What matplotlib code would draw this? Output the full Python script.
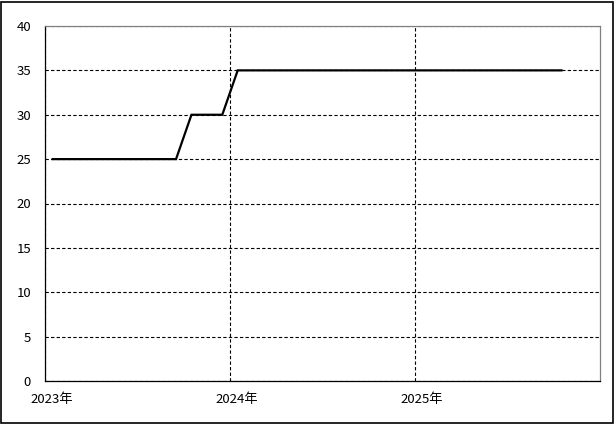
import numpy as np
import matplotlib
matplotlib.use("Agg")
import matplotlib.pyplot as plt
import matplotlib.transforms as mtransforms

plt.rcParams['font.family'] = ['Noto Sans CJK JP', 'DejaVu Sans']

# monthly data, 2023-01 .. 2025-10
months = [f"{y}-{m:02d}" for y in (2023, 2024, 2025) for m in range(1, 13)][:34]
values = [25, 25, 25, 25, 25, 25, 25, 25, 25,
          30, 30, 30,
          35, 35, 35, 35, 35, 35, 35, 35, 35, 35, 35,
          35, 35, 35, 35, 35, 35, 35, 35, 35, 35, 35]
year_labels = ["2023年", "2024年", "2025年"]
y_ticks = [0, 5, 10, 15, 20, 25, 30, 35, 40]

fig = plt.figure(figsize=(6.15, 4.24), dpi=100)
ax = fig.add_axes([45 / 615, 43 / 424, 555 / 615, 355 / 424])

# points sit in the middle of each month slot
x = np.arange(len(months)) + 0.5
ax.plot(x, values, color='black', linewidth=1.6, solid_joinstyle='miter')

ax.set_xlim(0, 36)
ax.set_ylim(0, 40)
ax.set_yticks(y_ticks)
ax.set_xticks([0, 12, 24])
ax.set_xticklabels(year_labels)

ax.tick_params(axis='both', length=0, labelsize=9.5, colors='black')
ax.tick_params(axis='y', pad=10)
ax.tick_params(axis='x', pad=9)
offset = mtransforms.ScaledTranslation(7 / 100, 0, fig.dpi_scale_trans)
for lbl in ax.get_xticklabels():
    lbl.set_transform(lbl.get_transform() + offset)

ax.grid(True, color='black', linestyle=(0, (3, 2)), linewidth=0.8)
ax.set_axisbelow(True)

ax.spines['left'].set_color('black')
ax.spines['bottom'].set_color('black')
ax.spines['top'].set_color('#808080')
ax.spines['right'].set_color('#808080')
for s in ax.spines.values():
    s.set_linewidth(0.9)
    s.set_zorder(3)

# outer chart border
fig.patches.append(plt.Rectangle((0.002, 0.003), 0.994, 0.993, transform=fig.transFigure,
                                 fill=False, edgecolor='black', linewidth=1.2))

fig.savefig("out.png", dpi=100)
